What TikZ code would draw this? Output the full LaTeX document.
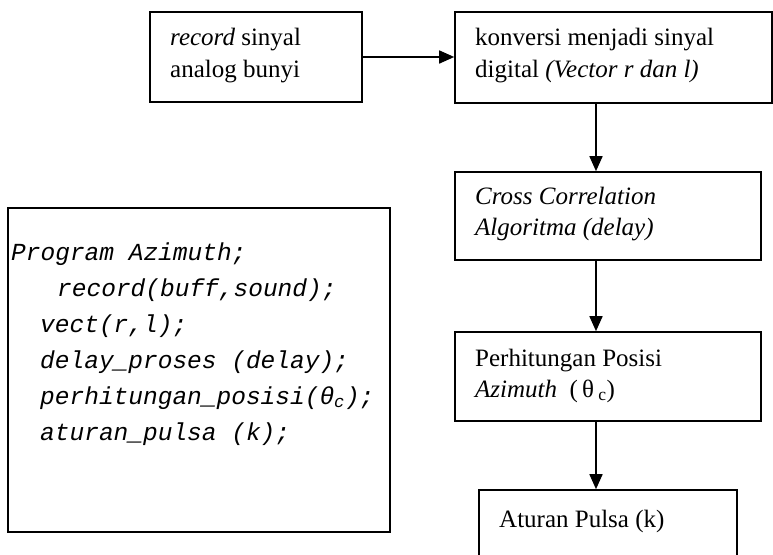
\documentclass[tikz,border=0pt]{standalone}
\usepackage{fontspec}
\setmainfont{Liberation Serif}
\newfontfamily\codefont{Liberation Mono}
\usetikzlibrary{arrows.meta}
\tikzset{
  box/.style={draw, line width=1.6pt, rectangle, inner sep=0pt},
  txt/.style={anchor=base west, inner sep=0pt, font=\fontsize{25}{30}\selectfont},
  code/.style={anchor=base west, inner sep=0pt, font=\codefont\itshape\fontsize{24.5}{30}\selectfont},
  arr/.style={line width=1.6pt, -{Triangle[length=15pt,width=13pt]}}
}
\begin{document}
\begin{tikzpicture}[x=1pt,y=-1pt]
\clip (0,0) rectangle (773,554);
\useasboundingbox (0,0) rectangle (773,554);
% boxes
\node[box, minimum width=212pt, minimum height=90pt] (b1) at (256,57) {};
\node[box, minimum width=317pt, minimum height=91pt] (b2) at (613.5,57.5) {};
\node[box, minimum width=306pt, minimum height=88pt] (b3) at (608,216) {};
\node[box, minimum width=306pt, minimum height=89pt] (b4) at (608,376.5) {};
\node[box, minimum width=258pt, minimum height=90pt] (b5) at (608,535) {};
\node[box, minimum width=382pt, minimum height=324pt] (prog) at (199,370) {};
% texts
\node[txt] (t1a) at (170,45) {\textit{record} sinyal};
\node[txt] (t1b) at (170,77) {analog bunyi};
\node[txt] (t2a) at (475,45) {konversi menjadi sinyal};
\node[txt] (t2b) at (475,77) {digital \textit{(Vector r dan l)}};
\node[txt] (t3a) at (475,204) {\textit{Cross Correlation}};
\node[txt] (t3b) at (475,235) {\textit{Algoritma (delay)}};
\node[txt] (t4a) at (475,366) {Perhitungan Posisi};
\node[txt] (t4b) at (475,397) {\textit{Azimuth}\ \ (\,θ\,\textsubscript{c})};
\node[txt] (t5) at (499,527) {Aturan Pulsa (k)};
% code
\node[code] (c1) at (11,260) {Program Azimuth;};
\node[code] (c2) at (57,296) {record(buff,sound);};
\node[code] (c3) at (40,332) {vect(r,l);};
\node[code] (c4) at (40,368) {delay\_proses (delay);};
\node[code] (c5) at (40,404) {perhitungan\_posisi(θ\textsubscript{c});};
\node[code] (c6) at (40,440) {aturan\_pulsa (k);};
% connectors
\coordinate (ax) at (596,0);
\draw[arr] (b1.east) -- (b2.west |- b1.east);
\draw[arr] (b2.south -| ax) -- (b3.north -| ax);
\draw[arr] (b3.south -| ax) -- (b4.north -| ax);
\draw[arr] (b4.south -| ax) -- (b5.north -| ax);
\end{tikzpicture}
\end{document}
